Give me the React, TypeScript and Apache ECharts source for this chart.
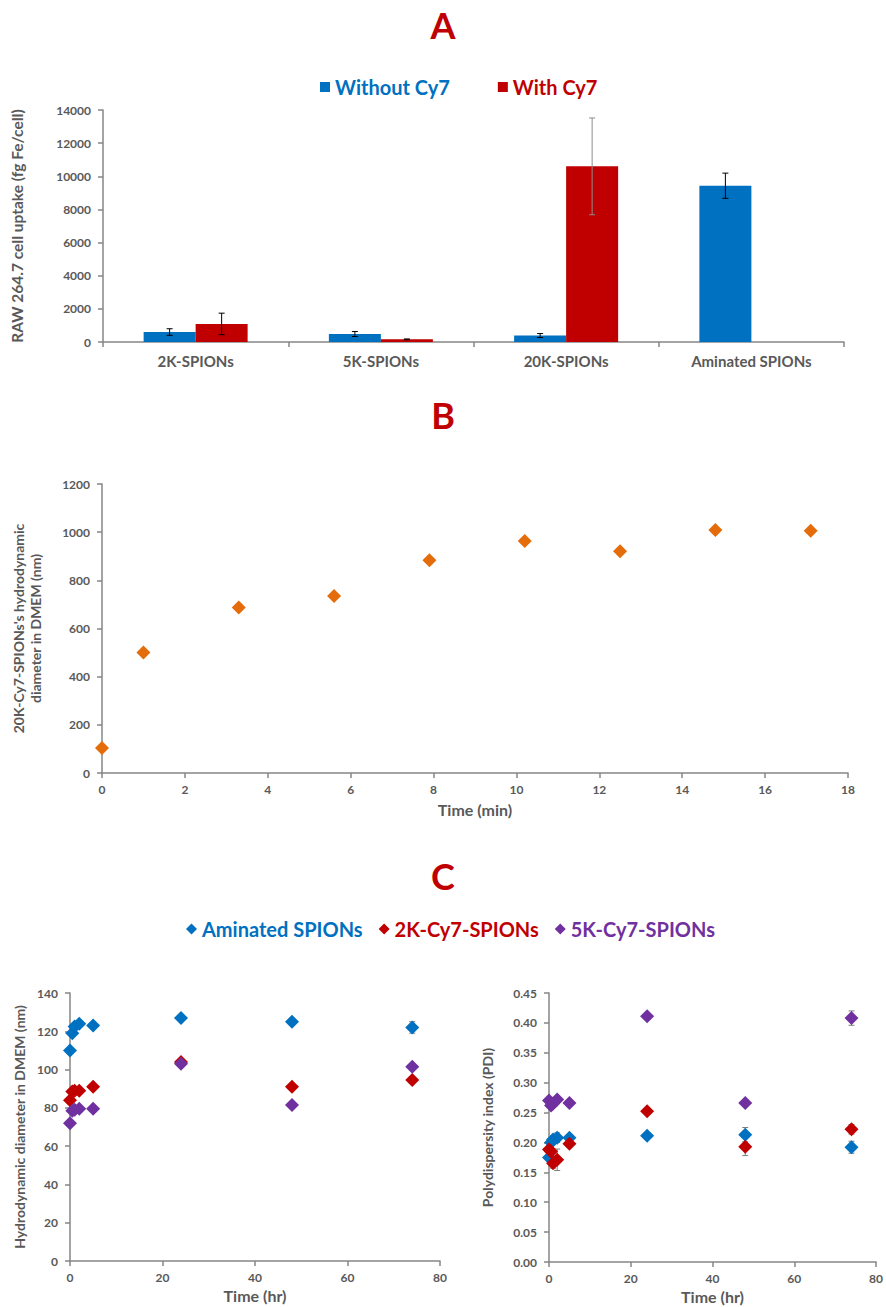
import React, { useEffect, useRef } from 'react';
import * as echarts from 'echarts';

// ---------- Panel A ----------
const uptakeCategories = ['2K-SPIONs', '5K-SPIONs', '20K-SPIONs', 'Aminated SPIONs'];
const withoutCy7 = [600, 480, 390, 9430];
const withoutCy7Err = [200, 150, 120, 760];
const withCy7: (number | null)[] = [1090, 160, 10600, null];
const withCy7Err: (number | null)[] = [650, 25, 2920, null];
const uptakeTicks = { min: 0, max: 14000, interval: 2000 };

// ---------- Panel B ----------
const timeMin = [0, 1, 3.3, 5.6, 7.9, 10.2, 12.5, 14.8, 17.1];
const diameter20K = [104, 500, 687, 735, 883, 963, 921, 1009, 1006];

// ---------- Panel C ----------
const timeHr = [0, 0.5, 1, 2, 5, 24, 48, 74];
const diamAminated = [110, 119, 122.5, 124, 123, 127, 125, 122];
const diamAminatedErr = [1, 1, 1, 1, 1, 1, 1.2, 3];
const diam2K = [84, 88.5, 89, 89, 91, 104, 91, 94.5];
const diam2KErr = [1, 1, 1, 1, 1, 1, 1, 1];
const diam5K = [72, 78.5, 79, 79.5, 79.5, 103, 81.5, 101.5];
const diam5KErr = [1, 1, 1, 1, 1, 1, 1, 1];
const pdiAminated = [0.175, 0.2, 0.205, 0.208, 0.208, 0.211, 0.213, 0.192];
const pdiAminatedErr = [0.005, 0.005, 0.006, 0.008, 0.004, 0.004, 0.012, 0.01];
const pdi2K = [0.188, 0.185, 0.165, 0.171, 0.198, 0.252, 0.193, 0.222];
const pdi2KErr = [0.006, 0.005, 0.008, 0.018, 0.006, 0.004, 0.015, 0.008];
const pdi5K = [0.27, 0.262, 0.265, 0.272, 0.266, 0.411, 0.266, 0.408];
const pdi5KErr = [0.004, 0.004, 0.004, 0.004, 0.004, 0.004, 0.005, 0.012];

const BLUE = '#0070C0';
const RED = '#C00000';
const PURPLE = '#7030A0';
const ORANGE = '#E46C0A';
const TXT = '#595959';
const AXIS = '#868686';
const FONT = 'Lato';

const axisLine = { show: true, lineStyle: { color: AXIS, width: 1.5 } };
const axisTick = { show: true, length: 5, lineStyle: { color: AXIS, width: 1.5 } };
const tickLabel = {
  color: TXT,
  fontFamily: FONT,
  fontWeight: 'bold' as const,
  fontSize: 12,
  formatter: (v: number) => String(v),
};
const nameStyle = { color: TXT, fontFamily: FONT, fontWeight: 'bold' as const, fontSize: 13.5 };

function errorRender(offset: number, capW: number) {
  return (params: any, api: any) => {
    const x = api.value(0);
    const y = api.value(1);
    const e = api.value(2);
    const top = api.coord([x, y + e]);
    const bot = api.coord([x, y - e]);
    const cx = top[0] + offset;
    const style = { stroke: api.visual('color'), lineWidth: 1 };
    return {
      type: 'group',
      children: [
        { type: 'line', shape: { x1: cx, y1: top[1], x2: cx, y2: bot[1] }, style },
        { type: 'line', shape: { x1: cx - capW, y1: top[1], x2: cx + capW, y2: top[1] }, style },
        { type: 'line', shape: { x1: cx - capW, y1: bot[1], x2: cx + capW, y2: bot[1] }, style },
      ],
    };
  };
}

function pairs(xs: number[], ys: number[]) {
  return xs.map((x, i) => [x, ys[i]]);
}
function triples(xs: number[], ys: number[], es: number[]) {
  return xs.map((x, i) => [x, ys[i], es[i]]);
}

export default function App() {
  const ref = useRef<HTMLDivElement>(null);

  useEffect(() => {
    if (!ref.current) return;
    const chart = echarts.init(ref.current, undefined, { renderer: 'svg' });

    const titleText = (t: string, y: number) => ({
      type: 'text',
      x: 443,
      y,
      style: {
        text: t,
        fill: RED,
        font: `bold 36px ${FONT}`,
        textAlign: 'center',
        textVerticalAlign: 'middle',
      },
    });

    let errCount = 0;
    const scatterC = (name: string, color: string, data: number[][], xi: number) => ({
      name,
      type: 'scatter',
      xAxisIndex: xi,
      yAxisIndex: xi,
      symbol: 'diamond',
      symbolSize: 14,
      itemStyle: { color, opacity: 1 },
      data,
      z: 3,
    });
    const errC = (data: number[][], xi: number, cap: number) => ({
      name: 'err-' + xi + '-' + errCount++,
      type: 'custom',
      xAxisIndex: xi,
      yAxisIndex: xi,
      renderItem: errorRender(0, cap),
      itemStyle: { color: '#7f7f7f' },
      encode: { x: 0, y: 1 },
      data,
      z: 2,
    });

    const timeName = (n: string, gap: number) => ({
      name: n,
      nameLocation: 'middle',
      nameGap: gap,
      nameTextStyle: { ...nameStyle, fontSize: 16 },
    });

    const option: any = {
      animation: false,
      backgroundColor: '#ffffff',
      graphic: [titleText('A', 25), titleText('B', 415), titleText('C', 876)],
      legend: [
        {
          data: [
            { name: 'Without Cy7', textStyle: { color: BLUE } },
            { name: 'With Cy7', textStyle: { color: RED } },
          ],
          left: 315,
          top: 72,
          icon: 'rect',
          itemWidth: 10,
          itemHeight: 10,
          itemGap: 48,
          textStyle: { fontFamily: FONT, fontWeight: 'bold', fontSize: 20 },
        },
        {
          data: [
            { name: 'Aminated SPIONs', textStyle: { color: BLUE } },
            { name: '2K-Cy7-SPIONs', textStyle: { color: RED } },
            { name: '5K-Cy7-SPIONs', textStyle: { color: PURPLE } },
          ],
          left: 181,
          top: 914,
          icon: 'diamond',
          itemWidth: 11,
          itemHeight: 11,
          itemGap: 16,
          textStyle: { fontFamily: FONT, fontWeight: 'bold', fontSize: 20 },
        },
      ],
      grid: [
        { left: 103, top: 110, width: 741, height: 232 },
        { left: 102, top: 484, width: 746, height: 289 },
        { left: 70, top: 993, width: 370, height: 268 },
        { left: 549, top: 993, width: 328, height: 269 },
      ],
      xAxis: [
        {
          gridIndex: 0,
          type: 'category',
          data: uptakeCategories,
          axisLine,
          axisTick,
          axisLabel: { ...tickLabel, formatter: undefined, fontSize: 15, margin: 11 },
        },
        {
          gridIndex: 1,
          type: 'value',
          min: 0,
          max: 18,
          interval: 2,
          axisLine,
          axisTick,
          splitLine: { show: false },
          axisLabel: { ...tickLabel, margin: 10 },
          ...timeName('Time (min)', 28),
        },
        {
          gridIndex: 2,
          type: 'value',
          min: 0,
          max: 80,
          interval: 20,
          axisLine,
          axisTick,
          splitLine: { show: false },
          axisLabel: { ...tickLabel, margin: 10 },
          ...timeName('Time (hr)', 26),
        },
        {
          gridIndex: 3,
          type: 'value',
          min: 0,
          max: 80,
          interval: 20,
          axisLine,
          axisTick,
          splitLine: { show: false },
          axisLabel: { ...tickLabel, margin: 10 },
          ...timeName('Time (hr)', 26),
        },
      ],
      yAxis: [
        {
          gridIndex: 0,
          type: 'value',
          ...uptakeTicks,
          axisLine,
          axisTick,
          splitLine: { show: false },
          axisLabel: { ...tickLabel, margin: 12 },
          name: 'RAW 264.7 cell uptake (fg Fe/cell)',
          nameLocation: 'middle',
          nameRotate: 90,
          nameGap: 78,
          nameTextStyle: { ...nameStyle, fontSize: 15.5 },
        },
        {
          gridIndex: 1,
          type: 'value',
          min: 0,
          max: 1200,
          interval: 200,
          axisLine,
          axisTick,
          splitLine: { show: false },
          axisLabel: { ...tickLabel, margin: 12 },
          name: "20K-Cy7-SPIONs's hydrodynamic\ndiameter in DMEM (nm)",
          nameLocation: 'middle',
          nameRotate: 90,
          nameGap: 58,
          nameTextStyle: { ...nameStyle, fontSize: 14, lineHeight: 17 },
        },
        {
          gridIndex: 2,
          type: 'value',
          min: 0,
          max: 140,
          interval: 20,
          axisLine,
          axisTick,
          splitLine: { show: false },
          axisLabel: { ...tickLabel, margin: 12 },
          name: 'Hydrodynamic diameter in DMEM (nm)',
          nameLocation: 'middle',
          nameRotate: 90,
          nameGap: 44,
          nameTextStyle: { ...nameStyle, fontSize: 14 },
        },
        {
          gridIndex: 3,
          type: 'value',
          min: 0,
          max: 0.45,
          interval: 0.05,
          axisLine,
          axisTick,
          splitLine: { show: false },
          axisLabel: { ...tickLabel, margin: 12, formatter: (v: number) => v.toFixed(2) },
          name: 'Polydispersity index (PDI)',
          nameLocation: 'middle',
          nameRotate: 90,
          nameGap: 55,
          nameTextStyle: { ...nameStyle, fontSize: 14 },
        },
      ],
      series: [
        {
          name: 'Without Cy7',
          type: 'bar',
          xAxisIndex: 0,
          yAxisIndex: 0,
          barWidth: 52,
          barGap: '0%',
          itemStyle: { color: BLUE },
          data: withoutCy7,
        },
        {
          name: 'With Cy7',
          type: 'bar',
          xAxisIndex: 0,
          yAxisIndex: 0,
          barWidth: 52,
          barGap: '0%',
          itemStyle: { color: RED },
          data: withCy7,
        },
        {
          name: 'errWithout',
          type: 'custom',
          xAxisIndex: 0,
          yAxisIndex: 0,
          renderItem: errorRender(-26, 3),
          itemStyle: { color: '#000000' },
          encode: { x: 0, y: 1 },
          data: withoutCy7.map((v, i) => [i, v, withoutCy7Err[i]]),
          z: 5,
        },
        {
          name: 'errWith',
          type: 'custom',
          xAxisIndex: 0,
          yAxisIndex: 0,
          renderItem: errorRender(26, 3),
          itemStyle: { color: '#000000' },
          encode: { x: 0, y: 1 },
          data: withCy7
            .map((v, i) =>
              v == null
                ? null
                : i === 2
                ? { value: [i, v, withCy7Err[i]], itemStyle: { color: '#8c8c8c' } }
                : { value: [i, v, withCy7Err[i]] }
            )
            .filter((d) => d != null),
          z: 5,
        },
        {
          name: '20K-Cy7-SPIONs',
          type: 'scatter',
          xAxisIndex: 1,
          yAxisIndex: 1,
          symbol: 'diamond',
          symbolSize: 14,
          itemStyle: { color: ORANGE, opacity: 1 },
          data: pairs(timeMin, diameter20K),
        },
        errC(triples(timeHr, diamAminated, diamAminatedErr), 2, 3),
        errC(triples(timeHr, diam2K, diam2KErr), 2, 3),
        errC(triples(timeHr, diam5K, diam5KErr), 2, 3),
        scatterC('Aminated SPIONs', BLUE, pairs(timeHr, diamAminated), 2),
        scatterC('2K-Cy7-SPIONs', RED, pairs(timeHr, diam2K), 2),
        scatterC('5K-Cy7-SPIONs', PURPLE, pairs(timeHr, diam5K), 2),
        errC(triples(timeHr, pdiAminated, pdiAminatedErr), 3, 3),
        errC(triples(timeHr, pdi2K, pdi2KErr), 3, 3),
        errC(triples(timeHr, pdi5K, pdi5KErr), 3, 3),
        scatterC('Aminated SPIONs', BLUE, pairs(timeHr, pdiAminated), 3),
        scatterC('2K-Cy7-SPIONs', RED, pairs(timeHr, pdi2K), 3),
        scatterC('5K-Cy7-SPIONs', PURPLE, pairs(timeHr, pdi5K), 3),
      ],
    };

    chart.setOption(option);
    return () => chart.dispose();
  }, []);

  return (
    <div
      ref={ref}
      style={{ position: 'fixed', left: 0, top: 0, width: 886, height: 1307, background: '#fff' }}
    />
  );
}
